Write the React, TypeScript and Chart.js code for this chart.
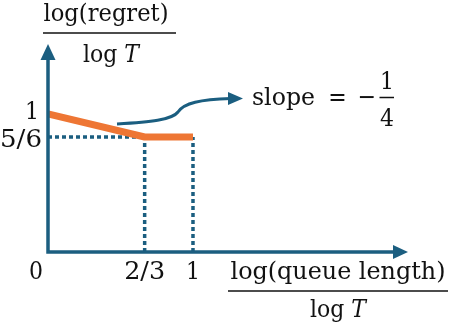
import React, { useEffect, useRef } from 'react';
import { Chart, registerables } from 'chart.js';

Chart.register(...registerables);

// Data
const regretX = [0, 2 / 3, 1];
const regretY = [1, 5 / 6, 5 / 6];
const guideHX = [0, 2 / 3];
const guideHY = [5 / 6, 5 / 6];
const guideV1X = [2 / 3, 2 / 3];
const guideV1Y = [0, 5 / 6];
const guideV2X = [1, 1];
const guideV2Y = [0, 5 / 6];
const xTickValues = [2 / 3, 1];
const xTickLabels = ['2/3', '1'];
const yTickValues = [5 / 6, 1];
const yTickLabels = ['5/6', '1'];
const originLabel = '0';
const yLabelText = 'log(regret)';
const xLabelText = 'log(queue length)';
const slopeText = 'slope';
const slopeNum = '1';
const slopeDen = '4';
const xMax = 2.483;
const yMax = 1.507;

const TEAL = '#1b5e80';
const ORANGE = '#ee7634';
const TEXT = '#111111';
const FAMILY = '"DejaVu Serif", serif';
const FONT = '25px ' + FAMILY;
const IFONT = 'italic 25px ' + FAMILY;
const SX = 0.88;

const pts = (xs: number[], ys: number[]) => xs.map((x, i) => ({ x, y: ys[i] }));

type TOpts = { align?: 'left' | 'center' | 'right'; italic?: boolean; width?: number; sx?: number };

function txt(ctx: CanvasRenderingContext2D, s: string, x: number, y: number, o: TOpts = {}) {
  ctx.save();
  ctx.font = o.italic ? IFONT : FONT;
  ctx.textAlign = 'left';
  ctx.textBaseline = 'alphabetic';
  const w = ctx.measureText(s).width;
  const sx = o.width ? o.width / w : o.sx ?? SX;
  const sw = w * sx;
  const align = o.align ?? 'left';
  const left = align === 'center' ? x - sw / 2 : align === 'right' ? x - sw : x;
  ctx.translate(left, y);
  ctx.scale(sx, 1);
  ctx.fillText(s, 0, 0);
  ctx.restore();
  return sw;
}

function measure(ctx: CanvasRenderingContext2D, s: string, italic = false) {
  ctx.save();
  ctx.font = italic ? IFONT : FONT;
  const w = ctx.measureText(s).width * SX;
  ctx.restore();
  return w;
}

function drawLogT(ctx: CanvasRenderingContext2D, cx: number, baseline: number) {
  const wl = measure(ctx, 'log');
  const wT = measure(ctx, 'T', true);
  const gap = 7;
  const start = cx - (wl + gap + wT) / 2;
  txt(ctx, 'log', start, baseline);
  txt(ctx, 'T', start + wl + gap, baseline, { italic: true });
}

const decorPlugin = {
  id: 'decor',
  afterDraw(chart: any) {
    const ctx: CanvasRenderingContext2D = chart.ctx;
    const xs = chart.scales.x;
    const ys = chart.scales.y;
    const x0 = xs.getPixelForValue(0);
    const y0 = ys.getPixelForValue(0);
    const xTip = chart.chartArea.right;
    const yTip = chart.chartArea.top;
    ctx.save();
    // axes
    ctx.strokeStyle = TEAL;
    ctx.fillStyle = TEAL;
    ctx.lineWidth = 3.5;
    ctx.lineJoin = 'miter';
    ctx.lineCap = 'butt';
    ctx.beginPath();
    ctx.moveTo(x0, yTip + 12);
    ctx.lineTo(x0, y0);
    ctx.lineTo(xTip - 12, y0);
    ctx.stroke();
    // arrowheads
    ctx.beginPath();
    ctx.moveTo(x0, yTip);
    ctx.lineTo(x0 - 7.5, yTip + 16);
    ctx.lineTo(x0 + 7.5, yTip + 16);
    ctx.closePath();
    ctx.fill();
    ctx.beginPath();
    ctx.moveTo(xTip, y0);
    ctx.lineTo(xTip - 15, y0 - 7);
    ctx.lineTo(xTip - 15, y0 + 7);
    ctx.closePath();
    ctx.fill();

    // slope annotation curve
    ctx.lineWidth = 3;
    ctx.beginPath();
    ctx.moveTo(117, 124);
    ctx.bezierCurveTo(150, 122, 172, 120, 178, 112);
    ctx.bezierCurveTo(184, 103, 200, 99.5, 231, 98.5);
    ctx.stroke();
    ctx.beginPath();
    ctx.moveTo(243, 98.5);
    ctx.lineTo(228, 92);
    ctx.lineTo(228, 105);
    ctx.closePath();
    ctx.fill();

    // text
    ctx.fillStyle = TEXT;
    ctx.strokeStyle = TEXT;
    // tick labels
    xTickValues.forEach((v, i) => {
      const lbl = xTickLabels[i];
      const px = xs.getPixelForValue(v);
      txt(ctx, lbl, px, y0 + 27, { align: 'center', width: lbl.length > 1 ? 41 : undefined });
    });
    yTickValues.forEach((v, i) => {
      const lbl = yTickLabels[i];
      const long = lbl.length > 1;
      const cx = long ? x0 - 27 : x0 - 16;
      txt(ctx, lbl, cx, ys.getPixelForValue(v) + (long ? 10 : 5), { align: 'center', width: long ? 42 : undefined });
    });
    txt(ctx, originLabel, x0 - 12, y0 + 27, { align: 'center' });

    // y axis title fraction
    txt(ctx, yLabelText, 106, 21, { align: 'center', width: 125 });
    ctx.lineWidth = 1.5;
    ctx.beginPath();
    ctx.moveTo(43, 33);
    ctx.lineTo(176, 33);
    ctx.stroke();
    drawLogT(ctx, 111, 62);

    // x axis title fraction
    txt(ctx, xLabelText, 338, 279, { align: 'center', width: 215 });
    ctx.beginPath();
    ctx.moveTo(228, 291);
    ctx.lineTo(448, 291);
    ctx.stroke();
    drawLogT(ctx, 338, 317);

    // slope text
    txt(ctx, slopeText, 252, 105, { width: 63 });
    txt(ctx, '=', 337.5, 105, { align: 'center' });
    txt(ctx, '\u2212', 367, 105, { align: 'center' });
    txt(ctx, slopeNum, 387, 89, { align: 'center' });
    txt(ctx, slopeDen, 387, 126, { align: 'center' });
    ctx.lineWidth = 1.5;
    ctx.beginPath();
    ctx.moveTo(379.5, 97.5);
    ctx.lineTo(394, 97.5);
    ctx.stroke();
    ctx.restore();
  },
};

export default function App() {
  const ref = useRef<HTMLCanvasElement>(null);
  useEffect(() => {
    if (!ref.current) return;
    const dotted = {
      borderColor: TEAL,
      borderWidth: 3.5,
      borderDash: [4, 3],
      pointRadius: 0,
      fill: false,
      tension: 0,
      borderCapStyle: 'butt' as const,
    };
    const chart = new Chart(ref.current, {
      type: 'scatter',
      data: {
        datasets: [
          {
            data: pts(regretX, regretY),
            showLine: true,
            borderColor: ORANGE,
            borderWidth: 7,
            pointRadius: 0,
            tension: 0,
            borderCapStyle: 'butt',
            borderJoinStyle: 'bevel',
          } as any,
          { ...dotted, showLine: true, data: pts(guideHX, guideHY) } as any,
          { ...dotted, showLine: true, data: pts(guideV1X, guideV1Y) } as any,
          { ...dotted, showLine: true, data: pts(guideV2X, guideV2Y) } as any,
        ],
      },
      options: {
        animation: false,
        responsive: false,
        layout: { padding: { left: 48, right: 42, top: 44, bottom: 74 } },
        scales: {
          x: { type: 'linear', min: 0, max: xMax, display: false },
          y: { type: 'linear', min: 0, max: yMax, display: false },
        },
        plugins: { legend: { display: false }, tooltip: { enabled: false } },
      },
      plugins: [decorPlugin],
    });
    return () => chart.destroy();
  }, []);
  return (
    <div style={{ position: 'fixed', left: 0, top: 0, width: 450, height: 326, background: '#fff' }}>
      <canvas ref={ref} width={450} height={326} style={{ display: 'block' }} />
    </div>
  );
}
